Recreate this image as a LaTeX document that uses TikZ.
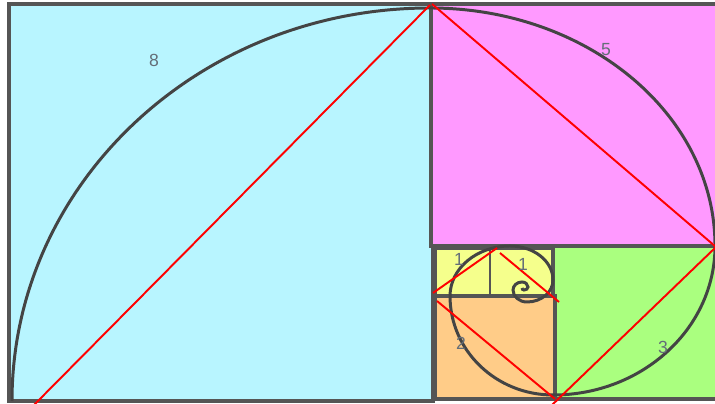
\documentclass[tikz,border=0pt]{standalone}
\usepackage{fontspec}
\setsansfont{Liberation Sans}
\definecolor{sqcyan}{RGB}{184,245,255}
\definecolor{sqpink}{RGB}{255,153,255}
\definecolor{sqgreen}{RGB}{170,255,127}
\definecolor{sqorange}{RGB}{255,204,136}
\definecolor{sqyellow}{RGB}{245,255,140}
\definecolor{edge}{RGB}{85,85,85}
\definecolor{curve}{RGB}{68,68,68}
\definecolor{numgray}{RGB}{100,110,120}
\begin{document}
\begin{tikzpicture}[x=0.02cm, y=0.02cm,
  sq/.style={draw=edge, line width=2.2pt},
  spiral/.style={draw=curve, line width=1.7pt},
  diag/.style={red, line width=1.1pt},
  num/.style={font=\sffamily\fontsize{10}{12}\selectfont, text=numgray}]
  \useasboundingbox (0,0) rectangle (715,404);
  \clip (0,0) rectangle (715,404);
  % the squares
  \path[sq, fill=sqcyan] (9,3) rectangle (433,400);
  \path[sq, fill=sqpink] (431,158) rectangle (719,400);
  \path[sq, fill=sqgreen] (553,5) rectangle (719,158);
  \path[sq, fill=sqorange] (435,5) rectangle (555,108);
  \path[sq, fill=sqyellow] (435,108) rectangle (553,156);
  \draw[edge, line width=1.1pt] (490,108) -- (490,156);
  % the spiral
  \draw[spiral] (12,3)
    arc[start angle=180, end angle=90, x radius=418, y radius=393]
    arc[start angle=90, end angle=0, x radius=285, y radius=238]
    arc[start angle=0, end angle=-90, x radius=162, y radius=149]
    arc[start angle=270, end angle=180, x radius=103, y radius=99]
    arc[start angle=180, end angle=90, x radius=60, y radius=50]
    arc[start angle=90, end angle=0, x radius=43, y radius=34]
    arc[start angle=0, end angle=-90, x radius=26, y radius=22]
    arc[start angle=270, end angle=180, x radius=14, y radius=12]
    arc[start angle=180, end angle=90, x radius=9, y radius=8]
    arc[start angle=90, end angle=0, x radius=6, y radius=5]
    arc[start angle=0, end angle=-90, x radius=4, y radius=3]
    arc[start angle=270, end angle=180, x radius=2, y radius=2];
  % red diagonals
  \draw[diag] (430,399) -- (33,-2);
  \draw[diag] (432,400) -- (716,157);
  \draw[diag] (716,157) -- (552,-1);
  \draw[diag] (437,103) -- (555,5);
  \draw[diag] (433,111) -- (497,156);
  \draw[diag] (500,151) -- (559,102);
  % labels
  \node[num] (n8) at (154,344) {8};
  \node[num] (n5) at (606,354) {5};
  \node[num] (n3) at (663,57) {3};
  \node[num] (n2) at (461,61) {2};
  \node[num] (n1a) at (459,145) {1};
  \node[num] (n1b) at (523,140) {1};
\end{tikzpicture}
\end{document}
